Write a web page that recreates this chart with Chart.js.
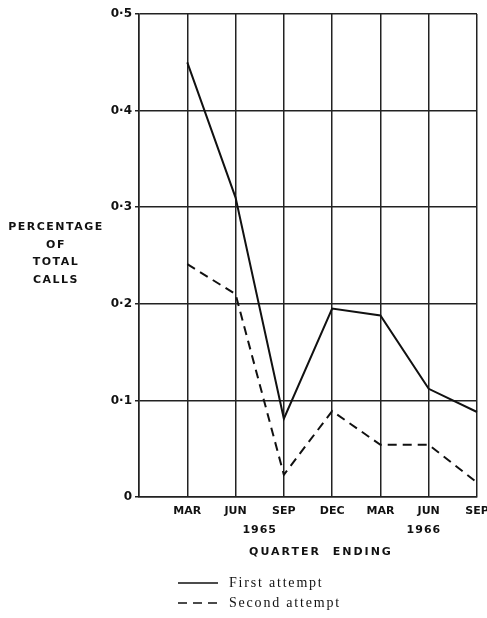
<!DOCTYPE html>
<html>
<head>
<meta charset="utf-8">
<script src="https://cdn.jsdelivr.net/npm/chart.js@4/dist/chart.umd.min.js"></script>
<style>
  html, body { margin: 0; padding: 0; background: #fff; }
  #wrap { width: 487px; height: 618px; }
</style>
</head>
<body>
<div id="wrap"><canvas id="callsChart"></canvas></div>
<script>
// quarters; the first slot is the unlabelled left edge of the grid
const quarters = ['', 'MAR', 'JUN', 'SEP', 'DEC', 'MAR', 'JUN', 'SEP'];
const firstAttempt = [null, 0.45, 0.31, 0.081, 0.195, 0.188, 0.112, 0.088];
const secondAttempt = [null, 0.241, 0.21, 0.023, 0.089, 0.054, 0.054, 0.015];
// year captions under the quarter labels (position in category index units)
const years = [{ text: '1965', at: 2.5 }, { text: '1966', at: 5.9 }];
const yTicks = [0, 0.1, 0.2, 0.3, 0.4, 0.5];

const sansFamily = '"DejaVu Sans", sans-serif';
const ink = '#111';

// extra labels: years, axis titles and the legend underneath
const extrasPlugin = {
  id: 'extras',
  afterDraw(chart) {
    const ctx = chart.ctx;
    const x = chart.scales.x;
    const area = chart.chartArea;
    ctx.save();
    ctx.fillStyle = ink;
    ctx.font = 'bold 11px ' + sansFamily;
    ctx.textAlign = 'center';
    ctx.textBaseline = 'middle';
    ctx.letterSpacing = '1px';
    years.forEach(y => ctx.fillText(y.text, x.getPixelForValue(y.at), area.bottom + 33));
    ctx.letterSpacing = '2px';
    ctx.fillText('QUARTER  ENDING', 321, area.bottom + 55);

    ctx.letterSpacing = '1.5px';
    ['PERCENTAGE', 'OF', 'TOTAL', 'CALLS'].forEach((t, i) => {
      ctx.fillText(t, 56, 227 + i * 17.8);
    });

    // legend
    ctx.font = '14px "Liberation Serif", "DejaVu Serif", serif';
    ctx.letterSpacing = '1.8px';
    ctx.textAlign = 'left';
    chart.data.datasets.forEach((ds, i) => {
      const ly = area.bottom + 86 + i * 20;
      ctx.beginPath();
      ctx.setLineDash(ds.borderDash || []);
      ctx.lineWidth = 1.5;
      ctx.strokeStyle = ink;
      ctx.moveTo(178, ly);
      ctx.lineTo(218, ly);
      ctx.stroke();
      ctx.setLineDash([]);
      ctx.fillText(ds.label, 229, ly);
    });
    ctx.restore();
  }
};

new Chart(document.getElementById('callsChart'), {
  type: 'line',
  data: {
    labels: quarters,
    datasets: [
      {
        label: 'First attempt',
        data: firstAttempt,
        borderColor: ink,
        borderWidth: 2,
        pointRadius: 0,
        tension: 0,
        spanGaps: false
      },
      {
        label: 'Second attempt',
        data: secondAttempt,
        borderColor: ink,
        borderWidth: 2,
        borderDash: [9, 6],
        pointRadius: 0,
        tension: 0,
        spanGaps: false
      }
    ]
  },
  options: {
    responsive: true,
    maintainAspectRatio: false,
    animation: false,
    layout: { padding: { top: 14, right: 10, left: 0, bottom: 0 } },
    plugins: {
      legend: { display: false },
      tooltip: { enabled: false }
    },
    scales: {
      x: {
        offset: false,
        afterFit(scale) {
          scale.height = 121;
          scale.paddingLeft = 0;
          scale.paddingRight = 0;
        },
        grid: { color: '#222', lineWidth: 1.5, drawTicks: false },
        border: { color: '#222', width: 1.5 },
        ticks: {
          color: ink,
          font: { family: sansFamily, size: 11, weight: 'bold' },
          padding: 8,
          maxRotation: 0,
          autoSkip: false
        }
      },
      y: {
        min: 0,
        max: 0.5,
        afterFit(scale) { scale.width = 139; },
        afterBuildTicks(scale) { scale.ticks = yTicks.map(v => ({ value: v })); },
        grid: { color: '#222', lineWidth: 1.5, tickLength: 4 },
        border: { color: '#222', width: 1.5 },
        ticks: {
          color: ink,
          font: { family: sansFamily, size: 12, weight: 'bold' },
          padding: 3,
          callback: v => v === 0 ? '0' : v.toFixed(1).replace('.', '\u00b7')
        }
      }
    }
  },
  plugins: [extrasPlugin]
});
</script>
</body>
</html>
